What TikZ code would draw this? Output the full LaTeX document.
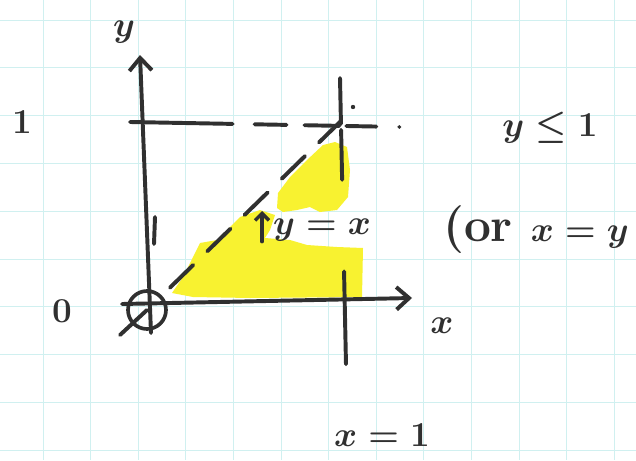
\documentclass[tikz,border=0pt]{standalone}
\usepackage{amsmath, amssymb}
\usepackage{xcolor}
\usepackage{tikz}
\usetikzlibrary{arrows.meta, positioning, calc}
\definecolor{ink}{RGB}{48, 48, 48}
\definecolor{gridcyan}{RGB}{208, 240, 240}
\definecolor{hilite}{RGB}{248, 242, 48}

\begin{document}
\begin{tikzpicture}[
    x=0.025cm, y=-0.025cm,
    gridline/.style={gridcyan, line width=0.7pt},
    pen/.style={ink, line width=2.8pt, line cap=round},
    axis/.style={pen, -{Straight Barb[length=9pt, width=16pt, line width=2.8pt]}},
    pointer/.style={pen, -{Straight Barb[length=5pt, width=10pt, line width=2.4pt]}},
    hand/.style={ink, inner sep=0pt, font=\fontsize{34}{38}\selectfont\boldmath}
  ]
  \useasboundingbox (0,0) rectangle (636,460);

  % Squared paper
  \fill[white] (0,0) rectangle (636,460);
  \foreach \i in {0,...,12}
    \draw[gridline] (43+47.6*\i,0) -- (43+47.6*\i,460);
  \foreach \j in {0,...,9}
    \draw[gridline] (0,20+47.8*\j) -- (636,20+47.8*\j);

  % Highlighted region
  \fill[hilite] (172,293) -- (183,277) -- (200,243) -- (217,240) -- (240,217)
    -- (260,210) -- (275,215) -- (270,230) -- (265,238) -- (290,240)
    -- (307,245) -- (337,247) -- (363,248) -- (362,297) -- (250,298)
    -- (193,297) -- cycle;
  \fill[hilite] (277,208) -- (278,193) -- (290,177) -- (307,160) -- (323,145)
    -- (335,142) -- (347,147) -- (350,170) -- (348,197) -- (337,210)
    -- (320,212) -- (310,207) -- (297,210) -- (283,212) -- cycle;

  % Points
  \node[circle, draw=ink, line width=2.6pt, minimum size=38*0.025cm, inner sep=0pt]
    (orig) at (147,310) {};
  \coordinate (ytip)   at (140,55);
  \coordinate (ybot)   at (151,333);
  \coordinate (xleft)  at (122,304);
  \coordinate (xtip)   at (412,298);
  \coordinate (corner) at (341,121);
  \coordinate (ymark)  at (130,122);
  \coordinate (yend)   at (401,127);
  \coordinate (xtop)   at (340,78);
  \coordinate (xbot)   at (346,365);
  \coordinate (hit)    at (262,211);

  % Axes
  \draw[axis] (ybot) -- (ytip);
  \draw[axis] (xleft) -- (xtip);
  \draw[pen] (155,217) -- (154,244);
  \draw[pen] (120,335) -- (orig.center);

  % Lines y = 1, x = 1 and y = x
  \draw[pen, dash pattern=on 73pt off 15.6pt on 22.7pt off 12.8pt on 24.8pt off 5pt on 21.3pt off 16.3pt on 0.1pt]
    (ymark) -- (yend);
  \draw[pen, dash pattern=on 32.6pt off 4.3pt on 35.5pt off 65.2pt on 66pt] (xtop) -- (xbot);
  \draw[pen, dash pattern=on 23pt off 14pt, shorten <=8pt] (orig) -- (corner);
  \fill[ink] (353,107) circle (2.2);

  % Labels
  \node[hand] (ylabel)  at (124,32)  {$y$};
  \node[hand] (xlabel)  at (442,326) {$x$};
  \node[hand] (one)     at (22,122)  {$1$};
  \node[hand] (zero)    at (62,311)  {$0$};
  \node[hand] (ybound)  at (550,128) {$y \leq 1$};
  \node[hand] (eqlabel) at (322,230) {$y = x$};
  \node[hand] (orlabel) at (536,230) {\bfseries(or $x = y$};
  \node[hand] (xone)    at (382,435) {$x = 1$};

  \draw[pointer] (hit |- eqlabel.south) -- (hit);

\end{tikzpicture}
\end{document}
